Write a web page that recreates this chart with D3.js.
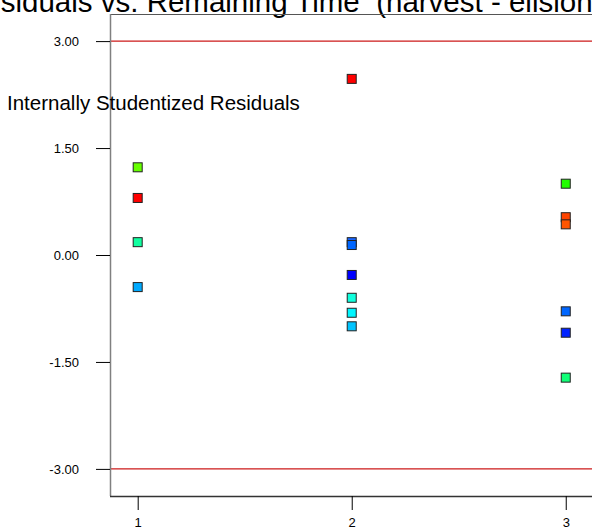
<!DOCTYPE html>
<html>
<head>
<meta charset="utf-8">
<script src="https://cdn.jsdelivr.net/npm/d3@7"></script>
<style>
  body { margin: 0; background: #fff; }
  svg { display: block; font-family: "Liberation Sans", Arial, sans-serif; }
</style>
</head>
<body>
<svg id="chart" width="592" height="530"></svg>
<script>
// run order (x) and internally studentized residuals (y)
const runs = [1, 1, 1, 1, 2, 2, 2, 2, 2, 2, 2, 3, 3, 3, 3, 3, 3];
const residuals = [1.23, 0.80, 0.18, -0.45,
                   2.47, 0.18, 0.14, -0.28, -0.60, -0.81, -1.00,
                   1.00, 0.53, 0.43, -0.79, -1.09, -1.72];
const pointColors = ["#66ff00", "#ff0000", "#11ffa0", "#00aaff",
                     "#ff0000", "#1a66ff", "#0066ff", "#0000ff", "#11ffdd", "#00f6ff", "#00c4ff",
                     "#22ff00", "#ff4400", "#ff5500", "#0066ff", "#0022ff", "#11ff77"];
const xTicks = [1, 2, 3];
const yTicks = [-3, -1.5, 0, 1.5, 3];
const limits = [-3, 3];

const svg = d3.select("#chart");
const plotLeft = 110, plotTop = 14, plotRight = 594, plotBottom = 496;

const x = d3.scaleLinear().domain([0.8706, 3.132]).range([plotLeft, plotRight]);
const y = d3.scaleLinear().domain([-3.38, 3.38]).range([plotBottom, plotTop]);

// title (cut off on both sides like the original)
svg.append("text")
  .attr("x", -37)
  .attr("y", 12)
  .attr("xml:space", "preserve")
  .style("white-space", "pre")
  .style("font-size", "29.5px")
  .style("fill", "#000")
  .text("Residuals vs. Remaining Time  (harvest - elision)");

// limit lines
svg.selectAll(".limit")
  .data(limits)
  .enter().append("line")
  .attr("class", "limit")
  .attr("x1", plotLeft).attr("x2", plotRight)
  .attr("y1", d => y(d)).attr("y2", d => y(d))
  .attr("stroke", "#cc1a1a")
  .attr("stroke-width", 1.2);

// frame
svg.append("line").attr("x1", plotLeft).attr("x2", plotRight).attr("y1", plotTop + 0.5).attr("y2", plotTop + 0.5)
  .attr("stroke", "#555");
svg.append("line").attr("x1", plotLeft + 0.5).attr("x2", plotLeft + 0.5).attr("y1", plotTop).attr("y2", plotBottom)
  .attr("stroke", "#808080").attr("stroke-width", 1.5);
svg.append("line").attr("x1", plotLeft).attr("x2", plotRight).attr("y1", plotBottom + 0.5).attr("y2", plotBottom + 0.5)
  .attr("stroke", "#333").attr("stroke-width", 1.5);

// y axis
const yAxis = svg.append("g")
  .attr("transform", "translate(" + plotLeft + ",0)")
  .call(d3.axisLeft(y).tickValues(yTicks).tickSize(14).tickPadding(17)
    .tickFormat(d => d.toFixed(2)));
yAxis.select(".domain").remove();
yAxis.selectAll("text").style("font-size", "13px").style("fill", "#000")
  .style("font-family", "Liberation Sans, Arial, sans-serif");
yAxis.selectAll("line").attr("stroke", "#000");

// x axis
const xAxis = svg.append("g")
  .attr("transform", "translate(0," + plotBottom + ")")
  .call(d3.axisBottom(x).tickValues(xTicks).tickSize(14).tickPadding(8)
    .tickFormat(d3.format("d")));
xAxis.select(".domain").remove();
xAxis.selectAll("text").style("font-size", "13px").style("fill", "#000")
  .style("font-family", "Liberation Sans, Arial, sans-serif");
xAxis.selectAll("line").attr("stroke", "#000");

// axis title
svg.append("text")
  .attr("x", 7)
  .attr("y", 110)
  .style("font-size", "20.5px")
  .style("fill", "#000")
  .text("Internally Studentized Residuals");

// points
const s = 9;
svg.selectAll(".pt")
  .data(residuals)
  .enter().append("rect")
  .attr("class", "pt")
  .attr("x", (d, i) => x(runs[i]) - s / 2)
  .attr("y", d => y(d) - s / 2)
  .attr("width", s)
  .attr("height", s)
  .attr("fill", (d, i) => pointColors[i])
  .attr("stroke", "#222")
  .attr("stroke-width", 1);
</script>
</body>
</html>
